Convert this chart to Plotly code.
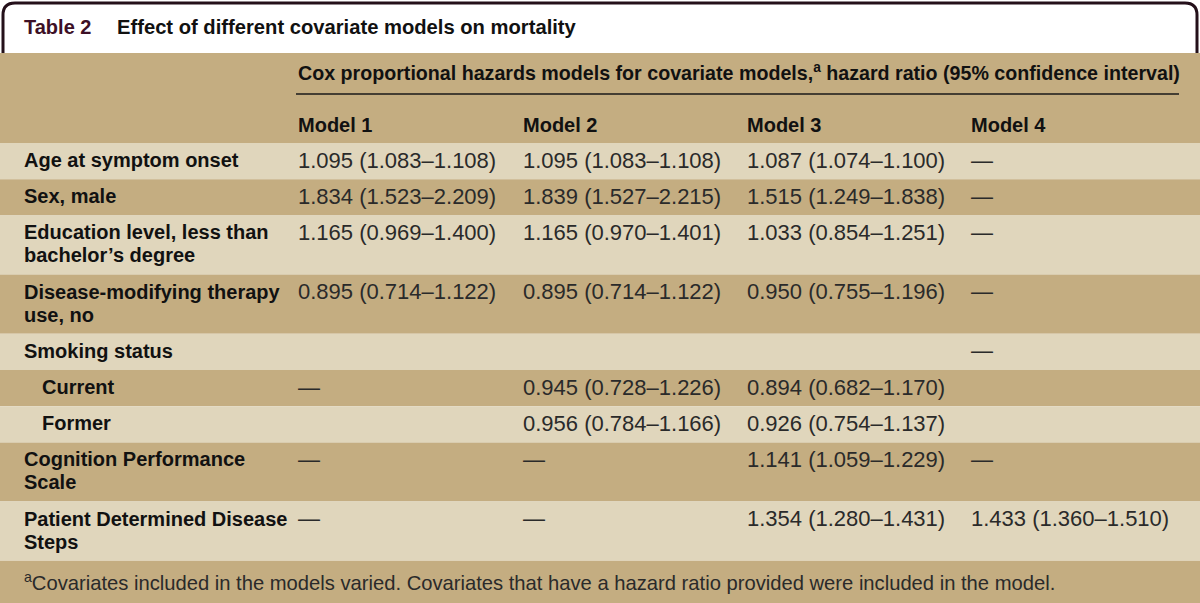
import plotly.graph_objects as go

# ---------------- data ----------------
title_num = "Table 2"
title_text = "Effect of different covariate models on mortality"
span_header = ("Cox proportional hazards models for covariate models,<sup>a</sup> "
               "hazard ratio (95% confidence interval)")
model_headers = ["Model 1", "Model 2", "Model 3", "Model 4"]

row_labels = [
    "Age at symptom onset",
    "Sex, male",
    "Education level, less than<br>bachelor’s degree",
    "Disease-modifying therapy<br>use, no",
    "Smoking status",
    "Current",
    "Former",
    "Cognition Performance<br>Scale",
    "Patient Determined Disease<br>Steps",
]
row_indent = [0, 0, 0, 0, 0, 1, 1, 0, 0]

model1 = ["1.095 (1.083–1.108)", "1.834 (1.523–2.209)", "1.165 (0.969–1.400)",
          "0.895 (0.714–1.122)", "", "—", "", "—", "—"]
model2 = ["1.095 (1.083–1.108)", "1.839 (1.527–2.215)", "1.165 (0.970–1.401)",
          "0.895 (0.714–1.122)", "", "0.945 (0.728–1.226)", "0.956 (0.784–1.166)",
          "—", "—"]
model3 = ["1.087 (1.074–1.100)", "1.515 (1.249–1.838)", "1.033 (0.854–1.251)",
          "0.950 (0.755–1.196)", "", "0.894 (0.682–1.170)", "0.926 (0.754–1.137)",
          "1.141 (1.059–1.229)", "1.354 (1.280–1.431)"]
model4 = ["—", "—", "—", "—", "—", "", "", "—", "1.433 (1.360–1.510)"]

footnote = ("<sup>a</sup>Covariates included in the models varied. Covariates that have "
            "a hazard ratio provided were included in the model.")

# ---------------- styling / layout ----------------
W, H = 1200, 603
DARK = "#c4ad81"
LIGHT = "#e0d6bc"
BORDER = "#24101a"
MAROON = "#3d1026"
TXT = "#111111"
BOLD = dict(family="Liberation Sans", size=20, color=TXT, weight=700)
REG = dict(family="Liberation Sans", size=22, color="#2a2a2a")

col_x = [22, 296, 521, 745, 969]
indent_px = 18
band_top = 53
header_bottom = 143
line_h = 23
row_pad = 13.2
first_line_off = 17

shapes = []
annotations = []

def ann(x, y, text, font, xanchor="left"):
    annotations.append(dict(x=x, y=y, xref="x", yref="y", text=text, showarrow=False,
                            xanchor=xanchor, yanchor="middle", font=font, align="left"))

# title border (rounded top frame)
r = 12
shapes.append(dict(
    type="path", xref="x", yref="y",
    path=f"M 3,{band_top} L 3,{3 + r} Q 3,3 {3 + r},3 L {W - 3 - r},3 Q {W - 3},3 {W - 3},{3 + r} L {W - 3},{band_top}",
    line=dict(color=BORDER, width=3), layer="above"))
ann(col_x[0], 27, f"<span style='color:{MAROON}'>{title_num}</span>", BOLD)
ann(115, 27, title_text, dict(BOLD, size=20.2))

# header band
shapes.append(dict(type="rect", xref="x", yref="y", x0=0, x1=W, y0=band_top, y1=header_bottom,
                   fillcolor=DARK, line=dict(width=0), layer="below"))
ann(col_x[1], 72, span_header, dict(BOLD, size=19.65))
shapes.append(dict(type="line", xref="x", yref="y", x0=col_x[1], x1=1179, y0=94, y1=94,
                   line=dict(color="#1a1a1a", width=1.5)))
for i, h in enumerate(model_headers):
    ann(col_x[i + 1], 125, h, BOLD)

# body rows
y = header_bottom
models = [model1, model2, model3, model4]
for i, lab in enumerate(row_labels):
    lines = lab.split("<br>")
    hgt = row_pad + line_h * len(lines)
    shapes.append(dict(type="rect", xref="x", yref="y", x0=0, x1=W, y0=y, y1=y + hgt,
                       fillcolor=LIGHT if i % 2 == 0 else DARK, line=dict(width=0), layer="below"))
    for k, ln in enumerate(lines):
        ann(col_x[0] + indent_px * row_indent[i], y + first_line_off + line_h * k, ln, BOLD)
    for j, m in enumerate(models):
        if m[i]:
            ann(col_x[j + 1], y + first_line_off, m[i], REG)
    y += hgt

# footnote
shapes.append(dict(type="rect", xref="x", yref="y", x0=0, x1=W, y0=y, y1=H,
                   fillcolor=LIGHT if len(row_labels) % 2 == 0 else DARK,
                   line=dict(width=0), layer="below"))
ann(col_x[0], y + 21, footnote, dict(REG, size=20.2))

fig = go.Figure()
fig.add_trace(go.Scatter(x=[None], y=[None], mode="markers", hoverinfo="skip"))
fig.update_layout(
    width=W, height=H, margin=dict(l=0, r=0, t=0, b=0),
    paper_bgcolor="white", plot_bgcolor="white", showlegend=False,
    xaxis=dict(range=[0, W], visible=False, fixedrange=True),
    yaxis=dict(range=[H, 0], visible=False, fixedrange=True),
    shapes=shapes, annotations=annotations,
)
fig.write_html("out.html", config={"displayModeBar": False},
               post_script="document.body.style.margin='0';document.body.style.padding='0';")
